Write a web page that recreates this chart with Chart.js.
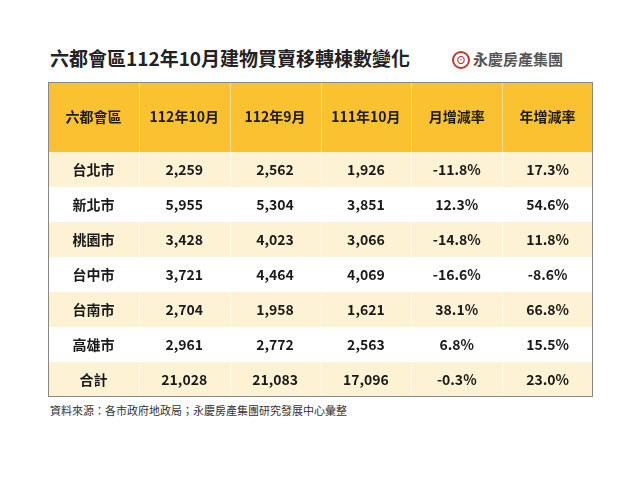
<!DOCTYPE html>
<html><head><meta charset="utf-8">
<script src="https://cdn.jsdelivr.net/npm/chart.js@4"></script>
<style>
body{margin:0;width:640px;height:480px;background:#fff;font-family:"Noto Sans CJK TC",sans-serif;position:relative;overflow:hidden}
#title{position:absolute;left:50px;top:44px;font-size:19px;font-weight:bold;color:#222}
#logo{position:absolute;left:452px;top:48px;font-size:15px;font-weight:bold;color:#555}
#logo span{color:#c0392b;border:2.5px solid #c0392b;border-radius:50%;display:inline-block;width:14px;height:14px;line-height:14px;font-size:10px;text-align:center;margin-right:3px;vertical-align:1px}
#wrap{position:absolute;left:48px;top:82px;width:545px;height:315px}
#src{position:absolute;left:50px;top:402px;font-size:11px;color:#333}
</style></head><body>
<div id="title">六都會區112年10月建物買賣移轉棟數變化</div>
<div id="logo"><span>⊙</span>永慶房產集團</div>
<div id="wrap"><canvas id="tbl"></canvas></div>
<div id="src">資料來源：各市政府地政局；永慶房產集團研究發展中心彙整</div>
<script>
// table content
const headers = ['六都會區', '112年10月', '112年9月', '111年10月', '月增減率', '年增減率'];
const cities  = ['台北市', '新北市', '桃園市', '台中市', '台南市', '高雄市', '合計'];
const oct112  = ['2,259', '5,955', '3,428', '3,721', '2,704', '2,961', '21,028'];
const sep112  = ['2,562', '5,304', '4,023', '4,464', '1,958', '2,772', '21,083'];
const oct111  = ['1,926', '3,851', '3,066', '4,069', '1,621', '2,563', '17,096'];
const momRate = ['-11.8%', '12.3%', '-14.8%', '-16.6%', '38.1%', '6.8%', '-0.3%'];
const yoyRate = ['17.3%', '54.6%', '11.8%', '-8.6%', '66.8%', '15.5%', '23.0%'];

const HEAD_BG = '#FAC230';
const STRIPE  = '#FEF2D4';
const columns = [cities, oct112, sep112, oct111, momRate, yoyRate];

// one point per cell; header spans y 0..2, body rows 1 unit each
const cells = [];
headers.forEach((h, c) => cells.push({x: c + 0.5, y: 1, t: h, row: -1}));
columns.forEach((col, c) => col.forEach((v, r) => cells.push({x: c + 0.5, y: 2.5 + r, t: v, row: r})));

const tablePlugin = {
    id: 'table',
    beforeDatasetsDraw(chart) {
        const {ctx, scales: {x, y}} = chart;
        ctx.save();
        ctx.fillStyle = HEAD_BG;
        ctx.fillRect(x.getPixelForValue(0), y.getPixelForValue(0), x.getPixelForValue(6) - x.getPixelForValue(0), y.getPixelForValue(2) - y.getPixelForValue(0));
        cities.forEach((_, r) => {
            if (r % 2 === 0) {
                ctx.fillStyle = STRIPE;
                ctx.fillRect(x.getPixelForValue(0), y.getPixelForValue(2 + r), x.getPixelForValue(6) - x.getPixelForValue(0), y.getPixelForValue(3 + r) - y.getPixelForValue(2 + r));
            }
        });
        // faint column separators
        ctx.strokeStyle = 'rgba(255,255,255,0.5)';
        ctx.lineWidth = 1;
        for (let c = 1; c < 6; c++) {
            const px = Math.round(x.getPixelForValue(c)) + 0.5;
            ctx.beginPath();
            ctx.moveTo(px, y.getPixelForValue(0));
            ctx.lineTo(px, y.getPixelForValue(9));
            ctx.stroke();
        }
        ctx.strokeStyle = '#888';
        ctx.strokeRect(x.getPixelForValue(0) + 0.5, y.getPixelForValue(0) + 0.5, x.getPixelForValue(6) - x.getPixelForValue(0) - 1, y.getPixelForValue(9) - y.getPixelForValue(0) - 1);
        ctx.font = 'bold 14px "Noto Sans CJK TC"';
        ctx.fillStyle = '#1a1a1a';
        ctx.textAlign = 'center';
        ctx.textBaseline = 'middle';
        cells.forEach(p => ctx.fillText(p.t, x.getPixelForValue(p.x), y.getPixelForValue(p.y)));
        ctx.restore();
    }
};

new Chart(document.getElementById('tbl'), {
    type: 'scatter',
    data: { datasets: [{ data: cells, pointRadius: 0 }] },
    options: {
        responsive: true,
        maintainAspectRatio: false,
        animation: false,
        layout: { padding: 0 },
        plugins: { legend: { display: false }, tooltip: { enabled: false } },
        scales: {
            x: { type: 'linear', min: 0, max: 6, display: false },
            y: { type: 'linear', min: 0, max: 9, reverse: true, display: false }
        }
    },
    plugins: [tablePlugin]
});
</script>
</body></html>
